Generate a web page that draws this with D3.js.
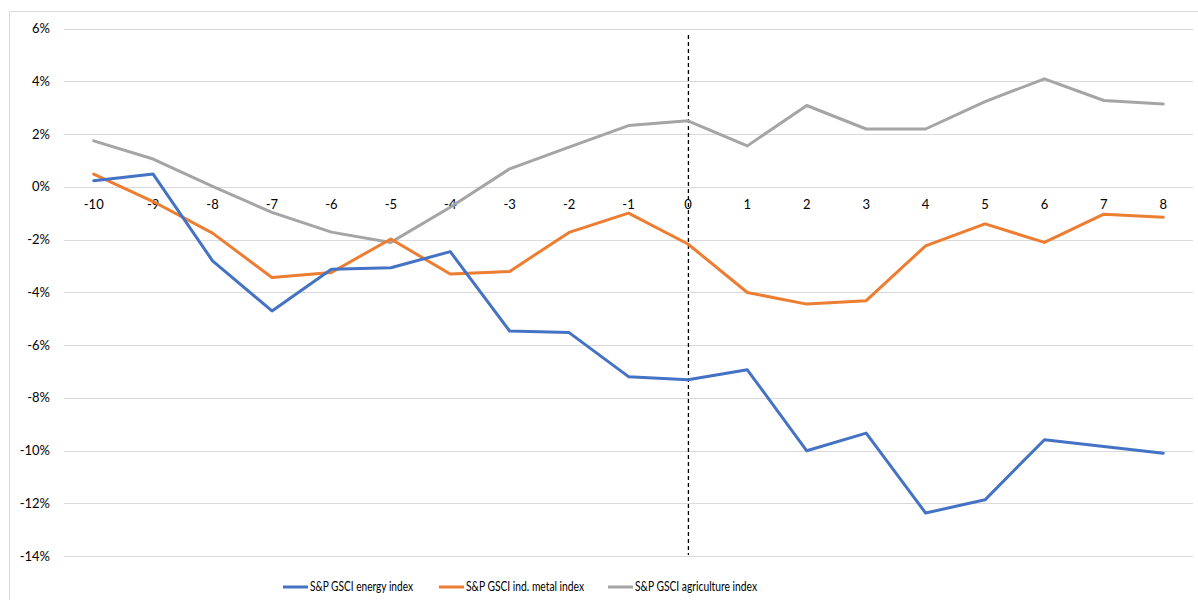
<!DOCTYPE html>
<html>
<head>
<meta charset="utf-8">
<script src="https://cdn.jsdelivr.net/npm/d3@7"></script>
<style>
  html, body { margin: 0; padding: 0; background: #fff; }
  svg { display: block; }
  text { font-family: Lato, "Open Sans", sans-serif; fill: #000; }
</style>
</head>
<body>
<svg id="chart" width="1198" height="600"></svg>
<script>
// Event window (days relative to the event)
const days = [-10, -9, -8, -7, -6, -5, -4, -3, -2, -1, 0, 1, 2, 3, 4, 5, 6, 7, 8];

// Cumulative returns, in percent
const energy = [0.23, 0.48, -2.81, -4.71, -3.13, -3.07, -2.46, -5.47, -5.53, -7.20, -7.32,
                -6.94, -10.01, -9.34, -12.37, -11.87, -9.59, -9.85, -10.10];
const indMetal = [0.48, -0.56, -1.76, -3.44, -3.25, -1.98, -3.31, -3.21, -1.73, -1.00, -2.17,
                  -4.01, -4.45, -4.32, -2.24, -1.41, -2.11, -1.04, -1.16];
const agriculture = [1.74, 1.05, 0.01, -0.97, -1.72, -2.11, -0.78, 0.68, 1.50, 2.32, 2.50,
                     1.55, 3.08, 2.19, 2.19, 3.23, 4.09, 3.27, 3.14];

const seriesNames = ["S&P GSCI energy index", "S&P GSCI ind. metal index", "S&P GSCI agriculture index"];
const seriesColors = ["#4472C4", "#ED7D31", "#A5A5A5"];
const yTicks = [6, 4, 2, 0, -2, -4, -6, -8, -10, -12, -14];

const svg = d3.select("#chart");

// outer chart frame
svg.append("rect")
  .attr("x", 9.5).attr("y", 11.5)
  .attr("width", 1198).attr("height", 600)
  .attr("fill", "none").attr("stroke", "#d9d9d9").attr("stroke-width", 1);

const x = d3.scaleBand().domain(days).range([64, 1193]);
const xc = d => x(d) + x.bandwidth() / 2;
const y = d3.scaleLinear().domain([-14, 6]).range([556, 28.5]);

// horizontal gridlines
svg.append("g")
  .selectAll("line")
  .data(yTicks)
  .join("line")
  .attr("x1", 64).attr("x2", 1193)
  .attr("y1", d => Math.round(y(d)) + 0.5).attr("y2", d => Math.round(y(d)) + 0.5)
  .attr("stroke", "#d9d9d9").attr("stroke-width", 1.2);

// y axis labels
const yAxis = d3.axisLeft(y)
  .tickValues(yTicks)
  .tickSize(0)
  .tickPadding(14)
  .tickFormat(d => (d < 0 ? "-" + Math.abs(d) : d) + "%");
svg.append("g")
  .attr("transform", "translate(64,0)")
  .call(yAxis)
  .call(g => g.select(".domain").remove())
  .call(g => g.selectAll("text").attr("font-size", 13).attr("font-family", "Lato, 'Open Sans', sans-serif").attr("fill", "#000"));

// x axis labels hanging below the zero line
const xAxis = d3.axisBottom(x).tickSize(0).tickPadding(13);
svg.append("g")
  .attr("transform", `translate(0,${y(0)})`)
  .call(xAxis)
  .call(g => g.select(".domain").remove())
  .call(g => g.selectAll("text").attr("font-size", 13).attr("font-family", "Lato, 'Open Sans', sans-serif").attr("fill", "#000"));

// event-day marker
svg.append("line")
  .attr("x1", xc(0) + 0.5).attr("x2", xc(0) + 0.5)
  .attr("y1", 35).attr("y2", 555)
  .attr("stroke", "#000").attr("stroke-width", 1.3)
  .attr("stroke-dasharray", "4,3");

// series lines
const line = d3.line()
  .x((d, i) => xc(days[i]))
  .y(d => y(d));

const allSeries = [energy, indMetal, agriculture];
// draw agriculture first, then metal, then energy on top
[2, 1, 0].forEach(k => {
  svg.append("path")
    .datum(allSeries[k])
    .attr("d", line)
    .attr("fill", "none")
    .attr("stroke", seriesColors[k])
    .attr("stroke-width", 3)
    .attr("stroke-linejoin", "round")
    .attr("stroke-linecap", "round");
});

// legend
const legendX = [283, 439, 608];
const legendTextWidth = [103, 118, 122];
const legend = svg.append("g");
seriesNames.forEach((name, k) => {
  legend.append("line")
    .attr("x1", legendX[k]).attr("x2", legendX[k] + 25)
    .attr("y1", 587).attr("y2", 587)
    .attr("stroke", seriesColors[k]).attr("stroke-width", 3);
  legend.append("text")
    .attr("x", legendX[k] + 27).attr("y", 587)
    .attr("dy", "0.35em")
    .attr("font-size", 12.5)
    .attr("textLength", legendTextWidth[k])
    .attr("lengthAdjust", "spacingAndGlyphs")
    .text(name);
});
</script>
</body>
</html>
